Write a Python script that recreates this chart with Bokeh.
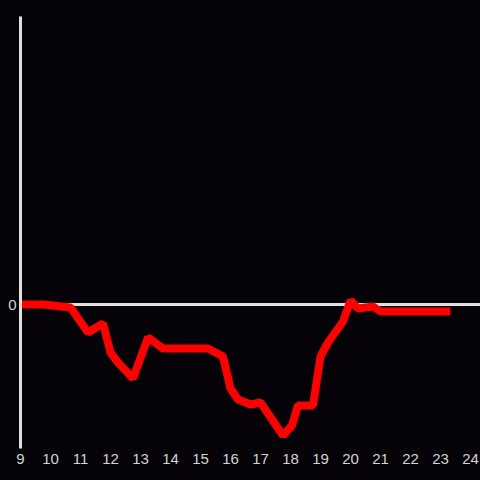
from bokeh.plotting import figure
from bokeh.models import Span, FixedTicker, Range1d
from bokeh.embed import file_html
from bokeh.resources import INLINE

hours = [9.0, 9.75, 10.67, 11.25, 11.75, 12.0, 12.25, 12.75, 13.25, 13.75, 15.25, 15.75,
         16.0, 16.25, 16.67, 17.0, 17.75, 18.05, 18.25, 18.75, 19.0, 19.25, 19.75, 20.0,
         20.25, 20.75, 21.0, 23.33]
values = [0, 0, -3, -28, -19, -48, -58, -74, -33, -44, -44, -52,
          -84, -95, -100, -98, -131, -121, -101, -101, -52, -38, -17, 4,
          -4, -2, -7, -7]
x_ticks = list(range(9, 25))
y_ticks = [0]

bg = "#050307"
fg = "#e0e0e0"
txt = "#d4d4d4"

p = figure(width=480, height=480, output_backend="svg", toolbar_location=None,
           x_range=Range1d(9, 24.333), y_range=Range1d(-144, 288),
           min_border_left=20, min_border_right=0, min_border_top=16, min_border_bottom=32,
           background_fill_color=bg, border_fill_color=bg)
p.outline_line_color = None
p.grid.visible = False

p.add_layout(Span(location=0, dimension="width", line_color=fg, line_width=3, level="underlay"))
p.line(hours, values, line_color="#ff0000", line_width=8)

xa = p.xaxis[0]
xa.ticker = FixedTicker(ticks=x_ticks)
xa.axis_line_color = None
xa.major_tick_line_color = None
xa.minor_tick_line_color = None
xa.major_tick_out = 0
xa.major_tick_in = 0
xa.major_label_text_color = txt
xa.major_label_text_font = "Liberation Sans"
xa.major_label_text_font_size = "15px"
xa.major_label_standoff = 5

ya = p.yaxis[0]
ya.ticker = FixedTicker(ticks=y_ticks)
ya.axis_line_color = fg
ya.axis_line_width = 3
ya.major_tick_line_color = None
ya.minor_tick_line_color = None
ya.major_tick_out = 0
ya.major_tick_in = 0
ya.major_label_text_color = txt
ya.major_label_text_font = "Liberation Sans"
ya.major_label_text_font_size = "15px"
ya.major_label_standoff = 4

html = file_html(p, INLINE)
html = html.replace("<head>", "<head><style>html,body{background:#050307;margin:0;padding:0;overflow:hidden}</style>", 1)
open("out.html", "w").write(html)
